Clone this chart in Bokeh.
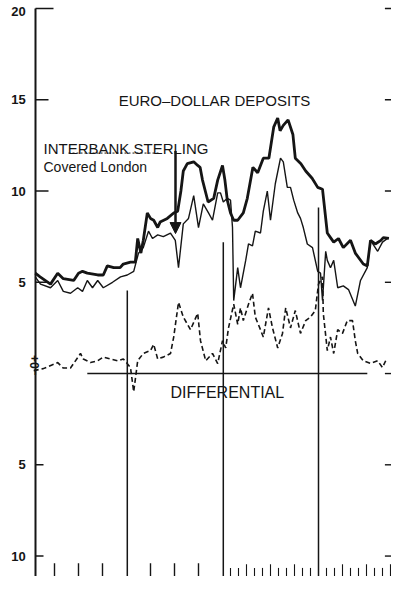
from bokeh.plotting import figure
from bokeh.models import Range1d, Arrow, NormalHead
from bokeh.core.properties import value
from bokeh.embed import file_html
from bokeh.resources import INLINE
import math

# ---- data (x = months from start of chart, y = per cent per annum) ----
ed_month = [0.6, 1.2, 2.5, 3.4, 4.1, 5.4, 6.0, 6.5, 7.1, 8.4, 9.1, 9.6, 10.4, 11.2, 11.6,
            12.5, 13.1, 13.4, 13.8, 14.1, 14.6, 15.0, 15.4, 15.9, 16.2, 17.1, 17.9, 18.4,
            18.8, 19.1, 19.6, 20.4, 20.9, 21.2, 21.5, 22.2, 22.9, 23.4, 24.0, 24.3, 24.6,
            25.0, 25.4, 25.9, 26.6, 27.1, 27.8, 28.4, 29.1, 29.8, 30.4, 30.9, 31.2, 31.6,
            32.2, 32.8, 33.1, 33.8, 34.4, 35.2, 35.9, 36.5, 37.1, 37.5, 37.9, 38.5, 39.1,
            40.0, 40.6, 41.6, 42.1, 42.5, 43.1, 43.8, 44.1, 44.8]
ed_rate = [5.5, 5.3, 4.9, 5.5, 5.2, 5.1, 5.5, 5.6, 5.5, 5.4, 5.4, 5.9, 5.8, 5.8, 6.0,
           6.1, 6.1, 7.4, 6.6, 7.3, 8.8, 8.5, 8.4, 8.0, 8.3, 8.5, 8.8, 8.9,
           10.0, 11.1, 11.5, 11.6, 11.4, 11.3, 10.6, 9.4, 9.6, 10.6, 11.4, 10.6, 9.5,
           8.8, 8.4, 8.4, 8.8, 9.6, 11.3, 11.0, 11.8, 11.8, 13.5, 14.0, 13.3, 13.6,
           13.9, 13.1, 11.8, 11.5, 11.1, 10.7, 10.2, 10.1, 7.7, 7.45, 7.2, 7.4, 6.9,
           7.3, 6.6, 6.0, 5.9, 7.3, 7.1, 7.3, 7.45, 7.4]

st_month = [0.6, 1.25, 2.5, 3.4, 4.1, 5.0, 5.9, 6.5, 7.1, 7.75, 8.4, 9.1, 10.25, 11.25, 12.1,
            12.9, 13.5, 14.1, 14.75, 15.25, 15.9, 16.6, 17.5, 18.1, 18.5, 19.1, 19.75, 20.4,
            21.0, 21.6, 22.25, 22.75, 23.4, 23.75, 24.1, 24.6, 25.0, 25.25, 25.4, 25.9, 26.25,
            26.9, 27.25, 27.75, 28.1, 28.75, 29.1, 29.6, 30.0, 30.6, 31.25, 31.6, 32.1, 32.5,
            32.9, 33.4, 33.75, 34.1, 34.6, 35.25, 35.9, 36.25, 36.5, 36.9, 37.1, 37.5, 37.9,
            38.4, 39.1, 39.75, 40.6, 41.25, 42.1, 42.5, 43.4, 44.0, 44.75]
st_rate = [5.3, 4.9, 4.7, 5.1, 4.5, 4.4, 4.7, 4.5, 5.1, 4.7, 5.1, 4.7, 5.0, 5.3, 5.4,
           5.6, 6.6, 6.9, 7.8, 7.4, 7.6, 7.5, 7.7, 7.3, 5.8, 8.2, 8.5, 9.75,
           8.0, 9.3, 8.8, 8.4, 9.9, 9.9, 9.4, 9.6, 9.5, 8.0, 4.0, 5.8, 4.7,
           6.2, 7.1, 7.0, 7.8, 7.7, 8.9, 10.0, 8.4, 10.4, 11.8, 11.6, 10.2, 10.2,
           9.5, 8.8, 8.5, 8.0, 7.1, 6.9, 5.6, 5.5, 4.0, 6.7, 6.2, 5.8, 6.2,
           4.7, 4.8, 4.6, 3.7, 5.1, 5.8, 7.3, 6.7, 7.2, 7.45]

df_month = [0.4, 1.6, 3.4, 4.1, 5.0, 6.25, 6.6, 7.5, 8.4, 9.1, 10.0, 10.9, 11.6, 12.5, 12.9,
            13.4, 14.1, 15.0, 15.4, 15.9, 16.6, 17.5, 17.9, 18.5, 19.1, 20.0, 20.9, 21.25,
            21.9, 22.75, 23.4, 24.0, 24.4, 24.75, 25.4, 25.9, 26.25, 26.6, 27.25, 27.75,
            28.1, 28.75, 29.1, 29.75, 30.25, 30.9, 31.5, 31.9, 32.5, 33.1, 33.75, 34.4,
            35.0, 35.6, 36.0, 36.5, 36.6, 37.1, 37.5, 37.9, 38.4, 39.0, 39.6, 40.25, 40.6,
            40.9, 41.6, 42.5, 43.4, 44.0, 44.4]
df_value = [0.16, 0.27, 0.6, 0.3, 0.3, 1.1, 0.8, 0.6, 0.7, 0.9, 0.8, 0.7, 0.8, 0.33, -1.0,
            0.7, 1.1, 1.26, 1.6, 0.8, 0.9, 1.1, 2.0, 3.9, 3.1, 2.4, 3.3, 1.8,
            0.7, 1.1, 0.55, 1.8, 1.4, 2.5, 3.8, 2.7, 3.6, 2.9, 3.8, 4.4,
            3.1, 2.4, 2.0, 3.6, 2.5, 1.4, 2.2, 3.6, 2.5, 3.45, 2.2, 2.9,
            3.1, 3.45, 4.9, 5.3, 3.3, 1.26, 2.0, 1.1, 2.4, 2.2, 2.9, 2.9, 1.8,
            1.1, 0.7, 0.55, 0.7, 0.33, 0.7]

y_tick_values = [20, 15, 10, 5, 0, -5, -10]
y_tick_labels = ["20", "15", "10", "5", "\u22120+", "5", "10"]
quarter_ticks = [3, 6, 9, 15, 18, 21]
month_ticks = [25, 26, 27, 28, 29, 30, 31, 32, 33, 34, 35, 37, 38, 39, 40, 41, 42, 43, 44, 45]
year_lines = [12.1, 24.1, 36.0]
year_line_tops = [4.55, 7.2, 9.1]

INK = "#151515"
FONT = value("Liberation Sans")
Y_TOP = 20.44
Y_BOTTOM = -11.12

p = figure(width=391, height=576, x_range=Range1d(-3.75, 45.125), y_range=Range1d(Y_BOTTOM, Y_TOP),
           output_backend="svg", toolbar_location=None, min_border=0,
           x_axis_location=None, y_axis_location=None)
p.grid.visible = False
p.outline_line_color = None
p.background_fill_color = "white"
p.border_fill_color = "white"

# left axis line
p.segment(x0=[0.625], y0=[20], x1=[0.625], y1=[Y_BOTTOM], line_color=INK, line_width=2)
# left ticks
tick_ends = {20: 2.875, 15: 2.25, 10: 2.25, 5: 2.25, -5: 1.625, -10: 1.625}
lt = [v for v in y_tick_values if v in tick_ends]
p.segment(x0=[0.625] * len(lt), y0=lt, x1=[tick_ends[v] for v in lt], y1=lt, line_color=INK, line_width=1.6)
# right ticks
p.segment(x0=[44.3] * len(y_tick_values), y0=y_tick_values, x1=[45.125] * len(y_tick_values),
          y1=y_tick_values, line_color=INK, line_width=1.4)

# left labels
for v, lab in zip(y_tick_values, y_tick_labels):
    if v == 0:
        p.text(x=[0.55], y=[0.45], text=[lab], angle=math.pi / 2, text_align="center",
               text_baseline="middle", text_font=FONT, text_font_size="12px",
               text_font_style="bold", text_color=INK)
    else:
        yy = 19.85 if v == 20 else v
        p.text(x=[-0.6], y=[yy], text=[lab], text_align="right", text_baseline="middle",
               text_font=FONT, text_font_size="13px", text_font_style="bold", text_color=INK)

# zero (differential) line
p.segment(x0=[7.1], y0=[0], x1=[42.1], y1=[0], line_color=INK, line_width=1.5)

# year boundary lines
p.segment(x0=year_lines, y0=year_line_tops, x1=year_lines, y1=[Y_BOTTOM] * 3, line_color=INK, line_width=1.5)

# bottom ticks
p.segment(x0=quarter_ticks, y0=[-10.4] * len(quarter_ticks), x1=quarter_ticks,
          y1=[Y_BOTTOM] * len(quarter_ticks), line_color=INK, line_width=1.4)
m_top = [-10.45 if m % 3 == 0 else -10.65 for m in month_ticks]
p.segment(x0=month_ticks, y0=m_top, x1=month_ticks, y1=[Y_BOTTOM] * len(month_ticks),
          line_color=INK, line_width=1.1)

# series
p.line(df_month, df_value, line_color=INK, line_width=1.6, line_dash="5 3")
p.line(st_month, st_rate, line_color=INK, line_width=1.4)
p.line(ed_month, ed_rate, line_color=INK, line_width=2.8)

# annotations
p.text(x=[23.0], y=[14.96], text=["EURO\u2013DOLLAR DEPOSITS"], text_align="center",
       text_baseline="alphabetic", text_font=FONT, text_font_size="15px", text_color=INK)
p.text(x=[1.625], y=[12.33], text=["INTERBANK STERLING"], text_align="left",
       text_baseline="alphabetic", text_font=FONT, text_font_size="15px", text_color=INK)
p.segment(x0=[4.75], y0=[12.08], x1=[16.0], y1=[12.08], line_color=INK, line_width=1, line_dash="2 2")
p.text(x=[1.625], y=[11.34], text=["Covered London"], text_align="left",
       text_baseline="alphabetic", text_font=FONT, text_font_size="14px", text_color=INK)
p.text(x=[24.6], y=[-1.04], text=["DIFFERENTIAL"], text_align="center",
       text_baseline="alphabetic", text_font=FONT, text_font_size="16px", text_color=INK)

p.add_layout(Arrow(end=NormalHead(size=11, fill_color=INK, line_color=INK), x_start=18.125, y_start=12.2,
                   x_end=18.125, y_end=7.67, line_color=INK, line_width=2.5))

open("out.html", "w").write(file_html(p, INLINE))
